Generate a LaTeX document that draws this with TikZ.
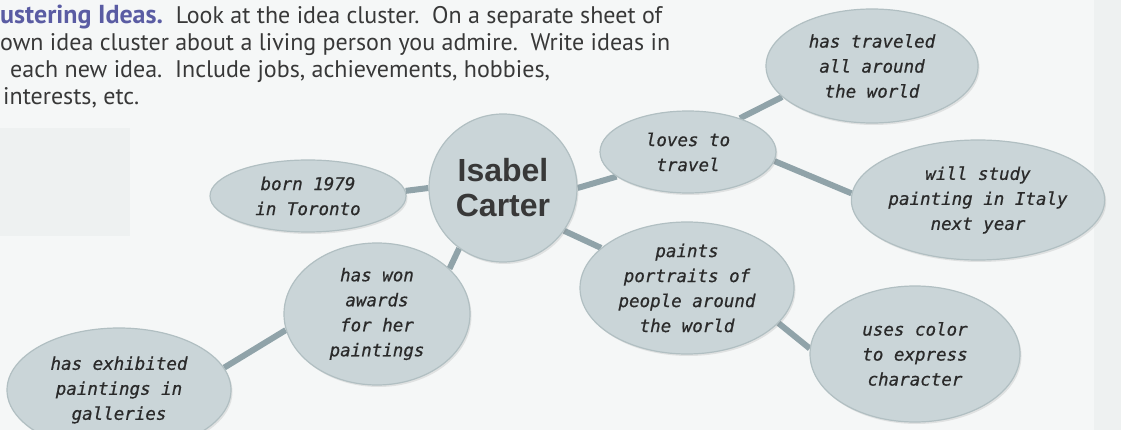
\documentclass[tikz,border=0pt]{standalone}
\usepackage{fontspec}
\setmainfont{PT Sans}
\newfontfamily\hwfont{DejaVu Sans Mono}[FakeBold=0.6]
\newfontfamily\namefont{Liberation Sans}
\usetikzlibrary{shapes.geometric,backgrounds,shadows}
\definecolor{bgcol}{HTML}{F5F7F7}
\definecolor{bubble}{HTML}{CAD5D8}
\definecolor{bubbleedge}{HTML}{B1BFC2}
\definecolor{linkcol}{HTML}{90A3A9}
\definecolor{hwtext}{HTML}{2A2A2A}
\definecolor{hdblue}{HTML}{5A5CA3}
\definecolor{hdtext}{HTML}{383838}
\definecolor{ghost}{HTML}{EEF1F1}
\begin{document}
\begin{tikzpicture}[x=1pt,y=-1pt,
  idea/.style={ellipse, fill=bubble, draw=bubbleedge, line width=1.2pt, inner sep=0pt,
    align=center, text=hwtext, font=\hwfont\itshape\fontsize{17.5}{25}\selectfont,
    drop shadow={opacity=0.18, shadow xshift=1.5pt, shadow yshift=-2pt}},
  link/.style={draw=linkcol, line width=6pt},
  hdline/.style={anchor=base west, inner sep=0pt, text=hdtext, font=\fontsize{24}{26}\selectfont}
]
\begin{pgfonlayer}{background}
  \fill[bgcol] (0,0) rectangle (1121,430);
  \fill[ghost] (0,128) rectangle (130,236);
  \fill[ghost] (1094,0) rectangle (1121,430);
\end{pgfonlayer}
\useasboundingbox (0,0) rectangle (1121,430);

% header text
\node[hdline] (h1) at (0,24) {{\bfseries\color{hdblue}\fontsize{26}{26}\selectfont ustering Ideas.}\ \ Look at the idea cluster.\ \ On a separate sheet of};
\node[hdline] (h2) at (0,51) {own idea cluster about a living person you admire.\ \ Write ideas in};
\node[hdline] (h3) at (10,78) {each new idea.\ \ Include jobs, achievements, hobbies,};
\node[hdline] (h4) at (3,105) {interests, etc.};

% central node
\node[circle, fill=bubble, draw=bubbleedge, line width=1.2pt, minimum size=148pt, inner sep=0pt,
  align=center, text=hdtext, font=\namefont\bfseries\fontsize{32}{35}\selectfont,
  drop shadow={opacity=0.18, shadow xshift=1.5pt, shadow yshift=-2pt}]
  (isabel) at (503,188) {Isabel\\Carter};

% idea nodes
\node[idea, minimum width=176pt, minimum height=82pt] (loves) at (688,152) {loves to\\travel};
\node[idea, minimum width=212pt, minimum height=114pt] (traveled) at (872,66) {has traveled\\all around\\the world};
\node[idea, minimum width=222pt, minimum height=120pt] (study) at (978,200) {will study\\painting in Italy\\next year};
\node[idea, minimum width=196pt, minimum height=72pt] (born) at (308,196) {born 1979\\in Toronto};
\node[idea, minimum width=186pt, minimum height=142pt] (won) at (377,314) {has won\\awards\\for her\\paintings};
\node[idea, minimum width=224pt, minimum height=124pt] (exhibited) at (119,390) {has exhibited\\paintings in\\galleries};
\node[idea, minimum width=214pt, minimum height=132pt] (paints) at (687,288) {paints\\portraits of\\people around\\the world};
\node[idea, minimum width=210pt, minimum height=136pt] (uses) at (915,354) {uses color\\to express\\character};

% connectors
\begin{pgfonlayer}{background}
  \draw[link] (isabel.0) -- (loves.199);
  \draw[link] (loves.33) -- (traveled.199);
  \draw[link] (loves.-6) -- (study.177);
  \draw[link] (isabel.180) -- (born.3);
  \draw[link] (isabel.234) -- (won.32);
  \draw[link] (won.190) -- (exhibited.12);
  \draw[link] (isabel.-35) -- (paints.155);
  \draw[link] (paints.-21) -- (uses.177);
\end{pgfonlayer}
\end{tikzpicture}
\end{document}
